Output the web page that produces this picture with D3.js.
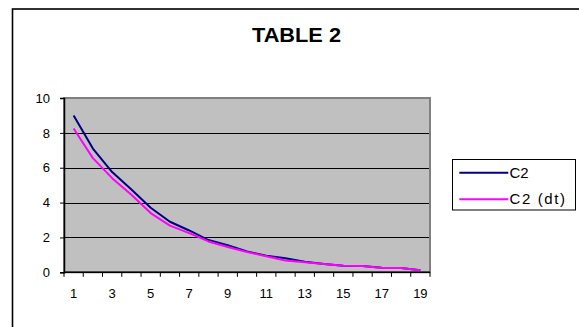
<!DOCTYPE html>
<html>
<head>
<meta charset="utf-8">
<script src="https://cdn.jsdelivr.net/npm/d3@7"></script>
<style>
  html, body { margin: 0; padding: 0; background: #fff; }
  svg { display: block; font-family: "Liberation Sans", Arial, sans-serif; }
</style>
</head>
<body>
<svg id="chart" width="579" height="327"></svg>
<script>
const categories = ["1","2","3","4","5","6","7","8","9","10","11","12","13","14","15","16","17","18","19"];
const seriesNames = ["C2", "C2 (dt)"];
const c2 = [9.0, 7.1, 5.75, 4.75, 3.7, 2.9, 2.4, 1.85, 1.55, 1.2, 0.95, 0.8, 0.6, 0.48, 0.38, 0.36, 0.26, 0.25, 0.12];
const c2dt = [8.25, 6.55, 5.4, 4.45, 3.4, 2.68, 2.25, 1.77, 1.45, 1.17, 0.92, 0.68, 0.58, 0.47, 0.37, 0.36, 0.25, 0.24, 0.12];
const yTicks = [0, 2, 4, 6, 8, 10];
const xTickLabels = ["1","3","5","7","9","11","13","15","17","19"];
const colors = ["#000080", "#FF00FF"];

const svg = d3.select("#chart");

// outer chart frame
svg.append("rect")
  .attr("x", 12.5).attr("y", 9).attr("width", 600).attr("height", 400)
  .attr("fill", "none").attr("stroke", "#000").attr("stroke-width", 1.6);

// title
svg.append("text")
  .attr("x", 296.5).attr("y", 41.7)
  .attr("text-anchor", "middle")
  .attr("font-size", 20).attr("font-weight", "bold")
  .attr("textLength", 89).attr("lengthAdjust", "spacingAndGlyphs")
  .text("TABLE 2");

const plot = { left: 64, right: 430, top: 98, bottom: 272.3 };

const x = d3.scaleBand().domain(categories).range([plot.left, plot.right]).paddingInner(0).paddingOuter(0);
const y = d3.scaleLinear().domain([0, 10]).range([plot.bottom, plot.top]);

// plot area background
svg.append("rect")
  .attr("x", plot.left).attr("y", plot.top)
  .attr("width", plot.right - plot.left).attr("height", plot.bottom - plot.top)
  .attr("fill", "#C0C0C0").attr("stroke", "#808080").attr("stroke-width", 2);

// gridlines
svg.append("g").selectAll("line")
  .data(yTicks.filter(d => d > 0 && d < 10))
  .join("line")
  .attr("x1", plot.left).attr("x2", plot.right - 1)
  .attr("y1", d => Math.round(y(d)) + 0.5).attr("y2", d => Math.round(y(d)) + 0.5)
  .attr("stroke", "#000").attr("stroke-width", 1);

// y axis
const yAxis = d3.axisLeft(y).tickValues(yTicks).tickSize(4).tickPadding(10).tickFormat(d3.format("d"));
const gy = svg.append("g").attr("transform", `translate(${plot.left},0)`).call(yAxis);
gy.select(".domain").attr("stroke", "#000").attr("stroke-width", 1.5);
gy.selectAll("text").attr("font-size", 13).attr("font-family", "Liberation Sans, Arial, sans-serif").attr("fill", "#000");

// x axis: ticks at band boundaries
const boundaries = categories.map(c => x(c)).concat([x(categories[categories.length - 1]) + x.bandwidth()]);
const gx = svg.append("g");
gx.append("line")
  .attr("x1", plot.left).attr("x2", plot.right)
  .attr("y1", plot.bottom).attr("y2", plot.bottom)
  .attr("stroke", "#000").attr("stroke-width", 1.5);
gx.selectAll("line.tick")
  .data(boundaries)
  .join("line").attr("class", "tick")
  .attr("x1", d => d).attr("x2", d => d)
  .attr("y1", plot.bottom).attr("y2", plot.bottom + 4.5)
  .attr("stroke", "#000").attr("stroke-width", 1);
gx.selectAll("text")
  .data(xTickLabels)
  .join("text")
  .attr("x", d => x(d) + x.bandwidth() / 2)
  .attr("y", 298.3)
  .attr("text-anchor", "middle")
  .attr("font-size", 13)
  .text(d => d);

// lines
const line = d3.line()
  .x((d, i) => x(categories[i]) + x.bandwidth() / 2)
  .y(d => y(d));

[c2, c2dt].forEach((s, i) => {
  svg.append("path")
    .datum(s)
    .attr("d", line)
    .attr("fill", "none")
    .attr("stroke", colors[i])
    .attr("stroke-width", 2)
    .attr("stroke-linejoin", "round");
});

// legend
const lg = svg.append("g");
lg.append("rect")
  .attr("x", 452.5).attr("y", 159.5).attr("width", 123).attr("height", 50.5)
  .attr("fill", "#fff").attr("stroke", "#000").attr("stroke-width", 1);
const legendY = [172.7, 199.3];
seriesNames.forEach((name, i) => {
  lg.append("line")
    .attr("x1", 459.3).attr("x2", 508.3)
    .attr("y1", legendY[i]).attr("y2", legendY[i])
    .attr("stroke", colors[i]).attr("stroke-width", 2);
  const t = lg.append("text")
    .attr("x", 509.5).attr("y", legendY[i] + 5)
    .attr("font-size", 15)
    .text(name);
  if (i === 1) t.attr("textLength", 55.5).attr("lengthAdjust", "spacing");
  else t.attr("textLength", 19).attr("lengthAdjust", "spacing");
});
</script>
</body>
</html>
